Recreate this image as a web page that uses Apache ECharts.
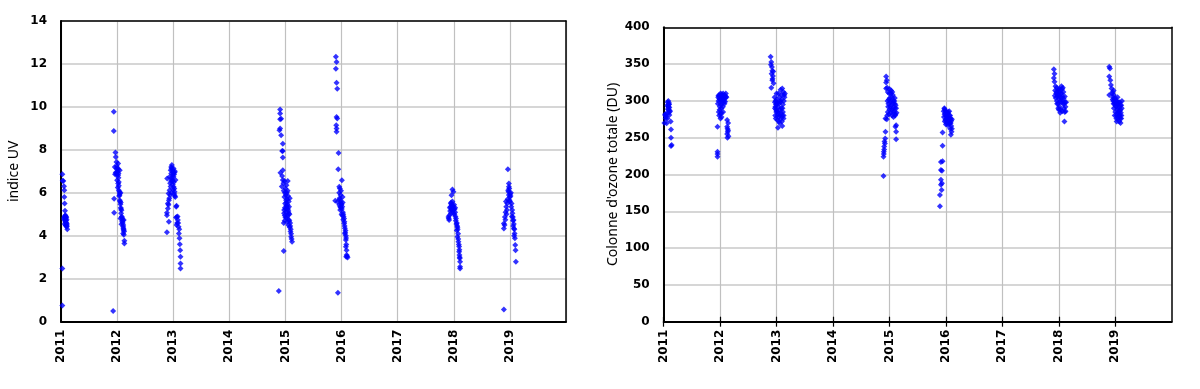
<!DOCTYPE html>
<html>
<head>
<meta charset="utf-8">
<script src="https://cdn.jsdelivr.net/npm/echarts@6/dist/echarts.min.js"></script>
<style>
html,body{margin:0;padding:0;background:#fff;}
#chart{width:1200px;height:389px;}
</style>
</head>
<body>
<div id="chart"></div>
<script>
// ---------- Data: [decimal year, value] ----------
const uv2011 = [[2011.024,6.87],[2011.030,6.56],[2011.041,6.55],[2011.053,6.31],[2011.059,6.12],[2011.059,5.81],[2011.065,5.5],[2011.071,5.16],[2011.077,4.96],[2011.065,4.88],[2011.083,4.82],[2011.053,4.78],[2011.071,4.72],[2011.089,4.9],[2011.100,4.75],[2011.077,4.65],[2011.095,4.6],[2011.065,4.55],[2011.106,4.55],[2011.083,4.48],[2011.100,4.42],[2011.112,4.31],[2011.089,4.7],[2011.059,4.85],[2011.024,2.48],[2011.024,0.76],[2011.075,4.75],[2011.085,4.62],[2011.095,4.85],[2011.070,4.92],[2011.105,4.45],[2011.090,4.5]];
const uv2012 = [[2011.941,9.77],[2011.941,8.88],[2011.970,7.88],[2011.976,7.67],[2011.988,7.44],[2012.018,7.36],[2011.959,7.2],[2011.988,7.13],[2012.018,7.1],[2012.047,7.05],[2011.964,6.87],[2011.988,6.85],[2012.018,6.82],[2012.000,6.59],[2012.018,6.43],[2012.030,6.33],[2012.030,6.12],[2012.047,5.97],[2012.059,6.0],[2011.947,5.72],[2012.047,5.66],[2012.059,5.47],[2012.077,5.19],[2011.947,5.07],[2012.059,4.81],[2012.095,4.78],[2012.118,4.73],[2012.077,4.54],[2012.107,4.42],[2012.118,4.26],[2012.107,4.11],[2012.130,3.77],[2012.130,3.64],[2011.929,0.5],[2012.006,7.0],[2011.976,6.95],[2012.024,6.7],[2012.012,6.25],[2012.036,5.85],[2012.053,5.6],[2012.065,5.3],[2012.071,5.05],[2012.083,4.9],[2012.101,4.6],[2012.112,4.35],[2012.124,4.2],[2012.089,4.65],[2011.995,7.25],[2012.010,7.15],[2012.000,6.95],[2012.025,6.9],[2012.030,6.5],[2012.040,6.05],[2012.045,5.9],[2012.065,5.55],[2012.070,5.25],[2012.085,4.85],[2012.100,4.7],[2012.110,4.5],[2012.115,4.3],[2012.120,4.05]];
const uv2013 = [[2012.888,4.17],[2012.923,4.65],[2012.888,4.96],[2012.888,5.07],[2012.905,5.27],[2012.905,5.5],[2012.923,5.66],[2012.917,5.97],[2012.935,6.12],[2012.893,6.67],[2012.935,6.74],[2012.964,7.2],[2012.976,7.29],[2013.006,7.13],[2012.964,6.9],[2012.982,6.6],[2012.994,6.4],[2013.006,6.28],[2013.024,6.05],[2013.036,5.81],[2013.012,6.5],[2013.024,6.95],[2012.994,6.85],[2012.953,6.3],[2012.970,6.0],[2012.947,5.9],[2013.018,5.95],[2013.030,7.0],[2013.041,6.6],[2013.053,5.35],[2013.065,4.88],[2013.083,4.73],[2013.095,4.42],[2013.101,4.11],[2013.112,3.88],[2013.118,3.61],[2013.124,3.33],[2013.130,3.02],[2013.130,2.71],[2013.130,2.48],[2013.077,4.9],[2013.089,4.6],[2013.107,4.3],[2013.059,5.4],[2012.955,7.05],[2012.970,7.15],[2012.985,7.05],[2013.000,6.95],[2012.975,6.7],[2012.990,6.55],[2013.005,6.75],[2013.015,6.85],[2012.960,6.55],[2012.945,6.45],[2013.000,6.15],[2013.020,6.2],[2013.030,5.85],[2012.930,5.75],[2012.915,5.45],[2013.050,4.85],[2013.060,4.5],[2013.070,4.6]];
const uv2015 = [[2014.905,9.88],[2014.905,9.69],[2014.905,9.43],[2014.923,9.45],[2014.905,9.0],[2014.893,8.91],[2014.923,8.68],[2014.953,8.29],[2014.941,7.95],[2014.953,7.95],[2014.953,7.64],[2014.953,7.05],[2014.911,6.93],[2014.941,6.78],[2014.953,6.6],[2014.982,6.55],[2015.041,6.55],[2014.935,6.3],[2014.970,6.1],[2015.000,6.2],[2015.024,6.0],[2015.047,5.85],[2014.982,5.8],[2015.012,5.65],[2015.059,5.6],[2014.994,5.5],[2015.030,5.35],[2014.976,5.2],[2015.012,5.1],[2015.053,5.15],[2014.988,4.95],[2015.024,4.85],[2015.071,5.0],[2014.970,4.6],[2015.059,4.75],[2015.083,4.6],[2015.077,4.4],[2015.095,4.3],[2015.101,4.1],[2015.101,3.95],[2015.118,3.72],[2014.970,3.29],[2014.882,1.43],[2015.036,5.45],[2015.006,5.25],[2015.041,4.95],[2015.065,5.35],[2015.077,5.75],[2015.018,6.35],[2014.965,6.45],[2014.990,6.0],[2015.005,5.9],[2015.030,5.7],[2015.015,5.4],[2014.990,5.3],[2015.045,5.25],[2015.000,4.85],[2014.985,4.7],[2015.035,4.65],[2015.050,4.5],[2015.070,4.7],[2015.085,4.45],[2015.060,5.05],[2015.020,5.55],[2015.040,6.1],[2014.975,5.05],[2015.090,4.2],[2015.110,3.85]];
const uv2016 = [[2015.899,12.33],[2015.911,12.09],[2015.899,11.78],[2015.911,11.12],[2015.923,10.85],[2015.911,9.53],[2015.923,9.46],[2015.905,9.15],[2015.911,9.0],[2015.911,8.84],[2015.947,7.86],[2015.941,7.1],[2016.006,6.59],[2015.959,6.28],[2015.970,6.2],[2015.888,5.63],[2015.929,5.58],[2015.959,6.0],[2015.982,5.9],[2015.970,5.7],[2015.994,5.5],[2015.959,5.45],[2016.012,5.35],[2015.976,5.2],[2016.024,5.1],[2016.000,5.0],[2016.036,4.9],[2016.047,4.57],[2016.059,4.35],[2016.065,4.15],[2016.077,4.0],[2016.077,3.8],[2016.077,3.49],[2016.089,3.33],[2016.083,3.02],[2016.107,2.99],[2015.935,1.35],[2016.018,5.8],[2015.988,5.3],[2016.030,4.75],[2015.965,5.75],[2015.985,5.6],[2016.000,5.45],[2016.005,5.25],[2016.020,5.55],[2016.030,5.0],[2016.045,4.8],[2016.050,4.65],[2016.055,4.45],[2016.070,4.25],[2016.080,3.9],[2016.085,3.6],[2016.090,3.1],[2016.100,3.05],[2015.990,6.1],[2015.975,5.35],[2016.060,4.1],[2016.015,4.95]];
const uv2018 = [[2017.976,6.16],[2017.994,6.05],[2017.959,5.89],[2017.947,5.5],[2017.976,5.4],[2018.006,5.45],[2017.929,5.3],[2017.964,5.2],[2018.024,5.1],[2017.905,4.88],[2017.917,4.73],[2017.947,5.05],[2017.988,5.25],[2018.036,4.7],[2018.047,4.55],[2018.065,4.4],[2018.053,4.25],[2018.077,4.1],[2018.065,3.95],[2018.083,3.72],[2018.095,3.5],[2018.095,3.26],[2018.101,3.1],[2018.107,2.95],[2018.112,2.79],[2018.112,2.56],[2018.112,2.48],[2017.976,5.6],[2018.012,5.0],[2017.935,5.15],[2018.024,5.3],[2017.953,5.55],[2017.940,5.35],[2017.955,5.25],[2017.965,5.45],[2017.985,5.35],[2018.000,5.2],[2017.990,5.05],[2018.015,5.25],[2018.030,4.9],[2018.040,4.8],[2018.055,4.6],[2018.060,4.45],[2018.070,4.3],[2018.080,3.85],[2018.090,3.6],[2018.100,3.35],[2018.105,3.0],[2017.920,4.95],[2017.910,4.8]];
const uv2019 = [[2018.964,7.1],[2018.982,6.43],[2018.982,6.28],[2018.970,6.12],[2018.982,5.9],[2019.012,5.85],[2018.994,5.66],[2018.953,5.5],[2018.935,5.35],[2018.923,5.1],[2018.911,4.88],[2018.893,4.57],[2018.893,4.34],[2019.030,5.5],[2019.041,5.2],[2019.053,4.88],[2019.065,4.73],[2019.071,4.34],[2019.083,4.11],[2019.089,3.88],[2019.095,3.57],[2019.101,3.33],[2019.107,2.79],[2018.893,0.57],[2019.000,5.8],[2019.018,6.0],[2018.947,5.2],[2019.036,4.9],[2019.059,4.45],[2019.077,4.0],[2018.960,5.7],[2018.975,6.05],[2018.990,6.2],[2019.005,5.95],[2019.000,5.6],[2019.025,5.35],[2019.045,5.05],[2019.055,4.7],[2019.070,4.55],[2019.080,4.3],[2018.940,5.0],[2018.920,4.75],[2018.905,4.5],[2018.930,5.6]];

const oz2011 = [[2011.082,300],[2011.094,297],[2011.065,294],[2011.100,291],[2011.082,288],[2011.112,285.6],[2011.024,282],[2011.041,278.5],[2011.065,276],[2011.100,281],[2011.124,272],[2011.053,269.5],[2011.129,261],[2011.129,250],[2011.141,240],[2011.129,238.7],[2011.088,295],[2011.076,292],[2011.106,287],[2011.029,280],[2011.012,270],[2011.070,298],[2011.085,292],[2011.090,284],[2011.075,289],[2011.095,295],[2011.050,283],[2011.035,276]];
const oz2012 = [[2011.953,265],[2011.953,231],[2011.953,228],[2011.953,224],[2011.965,305],[2011.982,308],[2012.006,310],[2012.029,309],[2012.053,310],[2012.082,308],[2012.100,306],[2011.971,300],[2011.994,302],[2012.018,304],[2012.041,301],[2012.065,303],[2012.088,299],[2012.112,305],[2011.994,292],[2012.024,290],[2012.053,285],[2012.006,282],[2012.024,278],[2011.982,280],[2012.006,276],[2012.076,296],[2012.124,274],[2012.141,270],[2012.124,265],[2012.141,260],[2012.124,255],[2012.129,250],[2012.147,252],[2011.970,307],[2011.985,303],[2012.000,306],[2012.015,300],[2012.030,306],[2012.045,304],[2012.060,307],[2012.070,300],[2012.090,304],[2012.100,310],[2011.960,296],[2011.990,288],[2012.010,295],[2012.035,296],[2012.050,292],[2011.975,285],[2012.020,284],[2012.130,262],[2012.135,258]];
const oz2013 = [[2012.894,360],[2012.906,353],[2012.918,346],[2012.924,341],[2012.935,334],[2012.924,328],[2012.947,324],[2012.906,318],[2012.912,337],[2012.929,330],[2012.900,349],[2012.941,340],[2012.965,305],[2012.982,300],[2013.006,296],[2013.029,292],[2013.053,288],[2013.076,284],[2013.100,280],[2013.124,276],[2012.971,290],[2012.994,285],[2013.018,281],[2013.041,278],[2013.065,298],[2013.088,302],[2013.112,295],[2013.135,308],[2013.147,310],[2012.976,280],[2013.012,274],[2013.053,270],[2013.100,266],[2013.024,263.6],[2013.100,317],[2013.071,315],[2013.035,310],[2013.082,290],[2013.112,285],[2012.988,295],[2013.000,310],[2013.129,300],[2013.094,272],[2012.970,298],[2012.980,292],[2012.990,288],[2013.000,302],[2013.010,286],[2013.020,298],[2013.030,284],[2013.045,296],[2013.050,305],[2013.060,280],[2013.070,300],[2013.080,276],[2013.090,308],[2013.105,290],[2013.120,312],[2013.125,280],[2013.140,305],[2012.985,276],[2013.040,272]];
const oz2015 = [[2014.941,333],[2014.953,328],[2014.941,325],[2014.941,317],[2014.971,312],[2015.000,316],[2015.024,310],[2015.047,305],[2015.071,300],[2015.094,296],[2015.118,290],[2014.988,302],[2015.012,298],[2015.035,294],[2015.059,290],[2015.082,286],[2015.106,282],[2014.976,292],[2015.000,288],[2015.024,284],[2015.047,280],[2015.071,278],[2015.029,314],[2015.059,308],[2015.094,304],[2014.929,276],[2014.953,275],[2015.118,267],[2015.106,265],[2015.118,258],[2015.118,248],[2014.929,258],[2014.924,249],[2014.912,245],[2014.906,238],[2014.900,231],[2014.894,224],[2014.894,198],[2014.906,234],[2014.918,242],[2014.900,228],[2014.959,280],[2014.960,318],[2014.965,300],[2014.980,296],[2014.995,310],[2015.005,304],[2015.015,292],[2015.030,300],[2015.040,288],[2015.050,312],[2015.065,296],[2015.075,284],[2015.085,300],[2015.095,290],[2015.100,280],[2015.110,294],[2015.125,284],[2014.970,285],[2014.990,282]];
const oz2016 = [[2015.971,290],[2015.988,287],[2016.012,285],[2016.035,283],[2016.059,280],[2016.082,276],[2015.976,282],[2016.000,279],[2016.024,276],[2016.047,272],[2016.071,270],[2016.094,266],[2015.988,274],[2016.012,270],[2016.035,267],[2015.965,278],[2016.059,286],[2016.076,262],[2016.088,254],[2016.100,258],[2015.941,257],[2015.941,239],[2015.912,217],[2015.941,218],[2015.912,206],[2015.929,205],[2015.912,193],[2015.929,188],[2015.912,186],[2015.924,179],[2015.894,172],[2015.894,157],[2016.106,275],[2015.960,286],[2015.975,289],[2015.990,283],[2016.000,286],[2016.005,275],[2016.020,281],[2016.030,278],[2016.040,285],[2016.045,275],[2016.055,269],[2016.065,276],[2016.075,280],[2016.085,270],[2016.095,273],[2016.105,262],[2015.980,272],[2016.000,268]];
const oz2018 = [[2017.912,343],[2017.924,337],[2017.912,331],[2017.924,326],[2017.941,320],[2017.965,318],[2017.988,315],[2018.012,312],[2018.035,310],[2018.059,316],[2018.082,312],[2018.106,306],[2017.953,310],[2017.976,306],[2018.000,303],[2018.024,300],[2018.047,304],[2018.071,300],[2018.094,296],[2018.118,292],[2017.929,307],[2017.965,300],[2017.988,296],[2018.012,292],[2018.035,288],[2018.000,288],[2018.024,284],[2018.100,272],[2018.106,285],[2018.129,298],[2018.071,318],[2018.047,320],[2017.935,314],[2017.945,304],[2017.960,312],[2017.970,296],[2017.980,309],[2017.995,307],[2018.005,316],[2018.020,306],[2018.030,315],[2018.040,298],[2018.050,310],[2018.065,306],[2018.075,296],[2018.085,303],[2018.090,290],[2018.110,298],[2018.120,286],[2017.990,290],[2018.060,286]];
const oz2019 = [[2018.894,346.5],[2018.906,344],[2018.894,333],[2018.912,328],[2018.924,321.5],[2018.935,317],[2018.894,308],[2018.953,312],[2018.976,308],[2019.000,304],[2019.024,300],[2019.047,296],[2019.071,292],[2019.094,288],[2018.965,300],[2018.988,296],[2019.012,292],[2019.035,288],[2019.059,284],[2019.082,280],[2019.106,276],[2018.976,290],[2019.000,285],[2019.024,280],[2019.047,276],[2019.071,272],[2019.094,270],[2019.118,300],[2019.106,294],[2018.953,302],[2018.971,314],[2019.082,298],[2019.041,305],[2019.024,272],[2018.945,310],[2018.960,305],[2018.970,296],[2018.985,303],[2018.995,298],[2019.005,294],[2019.015,300],[2019.030,296],[2019.040,284],[2019.050,290],[2019.060,298],[2019.065,280],[2019.075,286],[2019.085,276],[2019.090,294],[2019.100,284],[2019.110,280],[2019.115,290],[2018.990,280],[2019.020,276]];

const yearTicks = [2011, 2012, 2013, 2014, 2015, 2016, 2017, 2018, 2019];
const uvTitle = 'indice UV';
const ozTitle = "Colonne d'ozone totale (DU)";

const uvData = [].concat(uv2011, uv2012, uv2013, uv2015, uv2016, uv2018, uv2019);
const ozData = [].concat(oz2011, oz2012, oz2013, oz2015, oz2016, oz2018, oz2019);

// ---------- Chart ----------
const chart = echarts.init(document.getElementById('chart'), null, {renderer: 'canvas'});
const labelFont = {fontFamily: 'DejaVu Sans', fontWeight: 'bold', fontSize: 12, color: '#000'};
const yearFmt = v => (yearTicks.indexOf(v) >= 0 ? String(v) : '');

function baseX(gridIndex, opts) {
  return Object.assign({
    type: 'value', gridIndex: gridIndex, min: 2011, max: 2020, interval: 1,
    axisLine: {show: true, onZero: false, lineStyle: {color: '#000', width: 2}},
    axisTick: {show: false},
    axisLabel: Object.assign({rotate: 90, margin: 8, formatter: yearFmt}, labelFont),
    splitLine: {show: true, lineStyle: {color: '#c0c0c0', width: 1.2}}
  }, opts || {});
}
function frameX(gridIndex) {
  return {type: 'value', gridIndex: gridIndex, position: 'top', min: 2011, max: 2020,
    axisLine: {show: true, onZero: false, lineStyle: {color: '#000', width: 1.5}},
    axisTick: {show: false}, axisLabel: {show: false}, splitLine: {show: false}};
}
function frameY(gridIndex, max) {
  return {type: 'value', gridIndex: gridIndex, position: 'right', min: 0, max: max,
    axisLine: {show: true, onZero: false, lineStyle: {color: '#000', width: 1.5}},
    axisTick: {show: false}, axisLabel: {show: false}, splitLine: {show: false}};
}
const tickStyle = {color: '#000', width: 1.2};

const option = {
  animation: false,
  backgroundColor: '#fff',
  grid: [
    {left: 61, top: 21, width: 505, height: 300.7},
    {left: 663.7, top: 27.3, width: 508, height: 294.4}
  ],
  xAxis: [
    baseX(0),
    baseX(1, {axisTick: {show: true, length: 5, customValues: yearTicks, lineStyle: tickStyle}}),
    frameX(0),
    frameX(1),
    {type: 'value', gridIndex: 1, position: 'bottom', min: 2011, max: 2020, interval: 1,
      axisLine: {show: false}, axisLabel: {show: false}, splitLine: {show: false},
      axisTick: {show: true, inside: true, length: 5, customValues: yearTicks, lineStyle: tickStyle}}
  ],
  yAxis: [
    {type: 'value', gridIndex: 0, min: 0, max: 14, interval: 2,
      name: uvTitle, nameLocation: 'middle', nameGap: 40, nameRotate: 90,
      nameTextStyle: {fontFamily: 'Noto Sans', fontSize: 14, color: '#000'},
      axisLine: {show: true, onZero: false, lineStyle: {color: '#000', width: 2}},
      axisTick: {show: false},
      axisLabel: Object.assign({margin: 14}, labelFont),
      splitLine: {show: true, lineStyle: {color: '#d6d6d6', width: 2}}},
    {type: 'value', gridIndex: 1, min: 0, max: 400, interval: 50,
      name: ozTitle, nameLocation: 'middle', nameGap: 44, nameRotate: 90,
      nameTextStyle: {fontFamily: 'Noto Sans', fontSize: 14, color: '#000'},
      axisLine: {show: true, onZero: false, lineStyle: {color: '#000', width: 2}},
      axisTick: {show: false},
      axisLabel: Object.assign({margin: 14}, labelFont),
      splitLine: {show: true, lineStyle: {color: '#d6d6d6', width: 2}}},
    frameY(0, 14),
    frameY(1, 400)
  ],
  series: [
    {type: 'scatter', xAxisIndex: 0, yAxisIndex: 0, data: uvData,
      symbol: 'diamond', symbolSize: 6, itemStyle: {color: '#0000ff'}, z: 5},
    {type: 'scatter', xAxisIndex: 1, yAxisIndex: 1, data: ozData,
      symbol: 'diamond', symbolSize: 6, itemStyle: {color: '#0000ff'}, z: 5}
  ]
};
chart.setOption(option);
</script>
</body>
</html>
